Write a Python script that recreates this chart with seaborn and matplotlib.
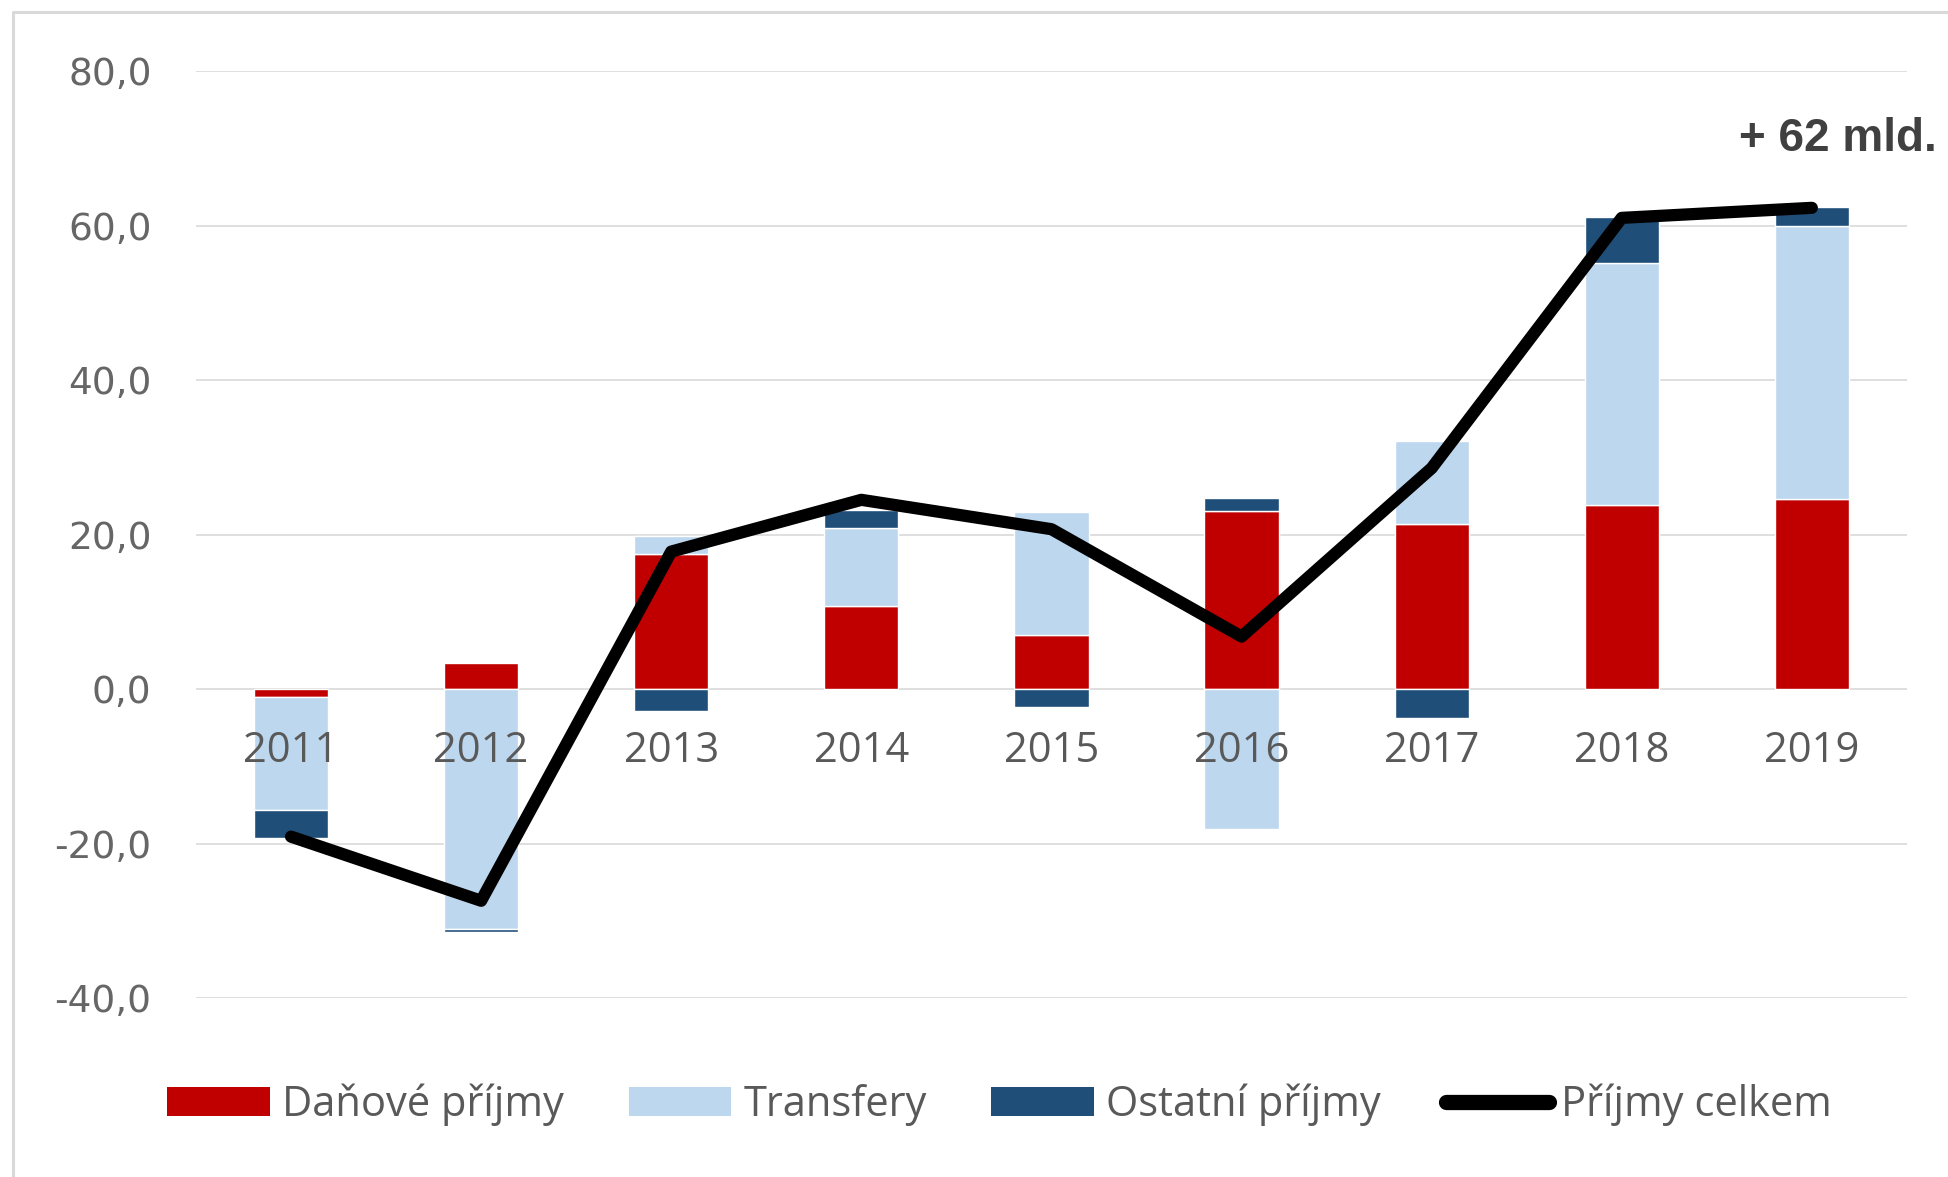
import matplotlib
matplotlib.use("Agg")
import matplotlib.pyplot as plt
import seaborn as sns
import numpy as np
import pandas as pd
from matplotlib.patches import Patch
from matplotlib.lines import Line2D

# meziroční změny příjmů (mld. Kč)
roky = ["2011", "2012", "2013", "2014", "2015", "2016", "2017", "2018", "2019"]
danove = [-1.0, 3.4, 17.5, 10.8, 7.0, 23.0, 21.4, 23.8, 24.6]
transfery = [-14.7, -31.1, 2.3, 10.1, 15.9, -18.1, 10.7, 31.3, 35.3]
ostatni = [-3.6, -0.4, -2.8, 2.3, -2.3, 1.8, -3.7, 6.0, 2.5]
celkem = [-19.1, -27.4, 17.8, 24.5, 20.7, 6.8, 28.6, 61.0, 62.3]

serie = ["Daňové příjmy", "Transfery", "Ostatní příjmy"]
barvy = ["#C00000", "#BDD7EE", "#1F4E79"]
popisek = "+ 62 mld."


def main():
    sns.set_theme(style="white")
    plt.rcParams["font.family"] = ["Open Sans", "DejaVu Sans"]

    df = pd.DataFrame({"rok": roky, serie[0]: danove, serie[1]: transfery, serie[2]: ostatni, "celkem": celkem})
    x = np.arange(len(df))

    fig = plt.figure(figsize=(19.48, 11.77), dpi=100)
    ax = fig.add_axes([0.1006, 0.152, 0.8783, 0.7876])

    # Excel-style stacking: kladné a záporné hodnoty zvlášť
    pos = np.zeros(len(df))
    neg = np.zeros(len(df))
    for name, color in zip(serie, barvy):
        vals = df[name].to_numpy()
        bottom = np.where(vals >= 0, pos, neg)
        ax.bar(x, vals, bottom=bottom, width=0.39, color=color, zorder=2)
        pos = pos + np.clip(vals, 0, None)
        neg = neg + np.clip(vals, None, 0)

    sns.lineplot(x=x, y=df["celkem"], ax=ax, color="black", linewidth=8.8,
                 solid_capstyle="round", solid_joinstyle="round", zorder=4)

    ax.set_xlim(-0.5, len(df) - 0.5)
    ax.set_ylim(-40, 80)
    ax.set_yticks(np.arange(-40, 81, 20))
    ax.set_yticklabels([f"{v:.1f}".replace(".", ",") for v in np.arange(-40, 81, 20)],
                       family="DejaVu Sans", fontsize=27, color="#666666")
    ax.tick_params(axis="y", length=0, pad=32)
    ax.set_xticks([])
    ax.set_xlabel("")
    ax.set_ylabel("")
    ax.grid(axis="y", color="#D9D9D9", linewidth=1.2, zorder=0)
    ax.set_axisbelow(True)
    for s in ax.spines.values():
        s.set_visible(False)

    # popisky kategorií u nulové osy (přes sloupce)
    for i, r in enumerate(df["rok"]):
        ax.text(i, -8, r, ha="center", va="center", fontsize=30, color="#595959", zorder=3)

    handles = [Patch(facecolor=c, edgecolor="none") for c in barvy]
    handles.append(Line2D([0], [0], color="black", linewidth=11, solid_capstyle="round"))
    fig.legend(handles, serie + ["Příjmy celkem"], loc="center", bbox_to_anchor=(0.513, 0.061),
               ncol=4, frameon=False, fontsize=30, handlelength=2.47, handletextpad=0.29,
               columnspacing=1.55, labelcolor="#595959")

    fig.text(0.9436, 0.882, popisek, ha="center", va="center", fontsize=33,
             fontweight="bold", family="Liberation Sans", color="#404040")

    # rámeček grafu (vidět jen vlevo a nahoře)
    bx, by = 13 / 1948, 1 - 12 / 1177
    fig.add_artist(Line2D([bx, bx, 1.0], [0.0, by, by], transform=fig.transFigure,
                          color="#D9D9D9", linewidth=2.2))

    fig.savefig("out.png", dpi=100, facecolor="white")


if __name__ == "__main__":
    main()
